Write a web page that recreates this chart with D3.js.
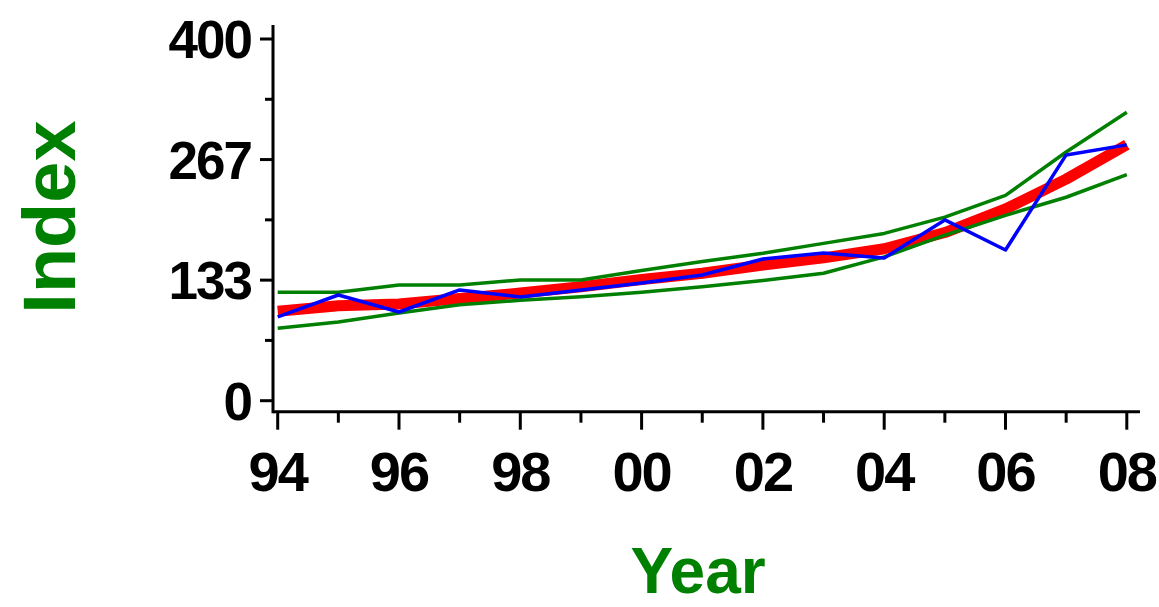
<!DOCTYPE html>
<html>
<head>
<meta charset="utf-8">
<script src="https://cdn.jsdelivr.net/npm/d3@7"></script>
<style>
  html, body { margin: 0; padding: 0; background: #fff; }
  svg { display: block; }
  text { font-family: "Liberation Sans", Arial, sans-serif; font-weight: bold; }
</style>
</head>
<body>
<svg id="chart" width="1159" height="607"></svg>
<script>
// ---- data ----
const years = [1994, 1995, 1996, 1997, 1998, 1999, 2000, 2001, 2002, 2003, 2004, 2005, 2006, 2007, 2008];
const actual = [92.6, 116.9, 98.1, 122.5, 114.7, 122.5, 130.2, 139.0, 156.7, 163.4, 157.8, 199.9, 166.7, 271.8, 282.9];
const fitted = [99, 105, 107, 113, 119, 126, 134, 141, 150, 158, 168, 186, 212, 245, 283];
const upper = [120, 120, 128, 128, 133.5, 133.5, 144, 154, 163, 174, 185, 203, 227, 275, 319];
const lower = [80, 87, 97, 106, 111, 115, 120, 126, 133, 141, 159, 183, 205, 225, 250];
const yTickValues = [0, 400 / 3, 800 / 3, 400];
const yTickLabels = ["0", "133", "267", "400"];
const yMinorValues = [200 / 3, 200, 1000 / 3];
const xTickYears = [1994, 1996, 1998, 2000, 2002, 2004, 2006, 2008];
const xTickLabels = ["94", "96", "98", "00", "02", "04", "06", "08"];
const xMinorYears = [1995, 1997, 1999, 2001, 2003, 2005, 2007];

// ---- layout ----
const svg = d3.select("#chart");
const x = d3.scaleLinear().domain([1994, 2008]).range([277.7, 1126.8]);
const y = d3.scaleLinear().domain([0, 400]).range([400.7, 39]);
const axisX = 273;       // position of y-axis line
const axisY = 411.7;     // position of x-axis line

const line = d3.line().x((d, i) => x(years[i])).y(d => y(d));

// fitted (red, thick)
svg.append("path").datum(fitted).attr("d", line)
  .attr("fill", "none").attr("stroke", "#ff0000").attr("stroke-width", 11)
  .attr("stroke-linejoin", "round").attr("stroke-linecap", "butt");
// bands (green)
[upper, lower].forEach(s => {
  svg.append("path").datum(s).attr("d", line)
    .attr("fill", "none").attr("stroke", "#008000").attr("stroke-width", 3.5)
    .attr("stroke-linejoin", "round");
});
// actual (blue)
svg.append("path").datum(actual).attr("d", line)
  .attr("fill", "none").attr("stroke", "#0000ff").attr("stroke-width", 3.5)
  .attr("stroke-linejoin", "round");

// ---- y axis ----
const gy = svg.append("g");
gy.append("line").attr("x1", axisX).attr("x2", axisX).attr("y1", 25).attr("y2", axisY + 1.5)
  .attr("stroke", "#000").attr("stroke-width", 3);
gy.selectAll("line.maj").data(yTickValues).enter().append("line")
  .attr("x1", axisX - 13).attr("x2", axisX).attr("y1", d => y(d)).attr("y2", d => y(d))
  .attr("stroke", "#000").attr("stroke-width", 3);
gy.selectAll("line.min").data(yMinorValues).enter().append("line")
  .attr("x1", axisX - 8).attr("x2", axisX).attr("y1", d => y(d)).attr("y2", d => y(d))
  .attr("stroke", "#000").attr("stroke-width", 3);
gy.selectAll("text").data(yTickValues).enter().append("text")
  .attr("x", 251).attr("y", d => y(d) + 19)
  .attr("text-anchor", "end").attr("font-size", 53).attr("letter-spacing", -2)
  .attr("fill", "#000").text((d, i) => yTickLabels[i]);

// ---- x axis ----
const gx = svg.append("g");
gx.append("line").attr("x1", axisX).attr("x2", 1140).attr("y1", axisY).attr("y2", axisY)
  .attr("stroke", "#000").attr("stroke-width", 3);
gx.selectAll("line.maj").data(xTickYears).enter().append("line")
  .attr("x1", d => x(d)).attr("x2", d => x(d)).attr("y1", axisY).attr("y2", axisY + 18)
  .attr("stroke", "#000").attr("stroke-width", 3);
gx.selectAll("line.min").data(xMinorYears).enter().append("line")
  .attr("x1", d => x(d)).attr("x2", d => x(d)).attr("y1", axisY).attr("y2", axisY + 11)
  .attr("stroke", "#000").attr("stroke-width", 3);
gx.selectAll("text").data(xTickYears).enter().append("text")
  .attr("x", d => x(d)).attr("y", 491)
  .attr("text-anchor", "middle").attr("font-size", 56).attr("letter-spacing", -2)
  .attr("fill", "#000").text((d, i) => xTickLabels[i]);

// ---- titles ----
svg.append("text").attr("x", 698).attr("y", 593)
  .attr("text-anchor", "middle").attr("font-size", 64).attr("fill", "#008000").text("Year");
svg.append("text").attr("transform", "translate(75,217) rotate(-90)")
  .attr("text-anchor", "middle").attr("font-size", 74).attr("fill", "#008000").text("Index");
</script>
</body>
</html>
